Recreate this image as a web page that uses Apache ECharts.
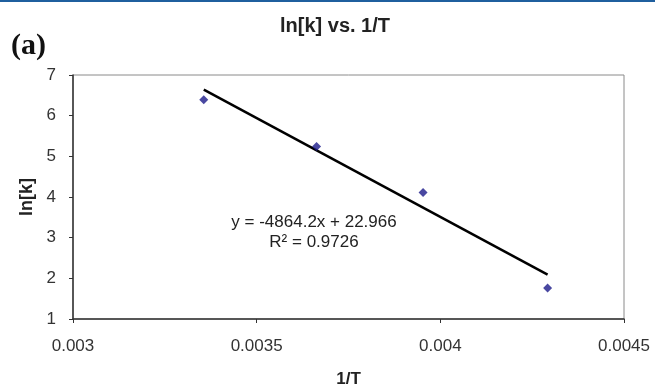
<!DOCTYPE html>
<html>
<head>
<meta charset="utf-8">
<script src="https://cdn.jsdelivr.net/npm/echarts@6/dist/echarts.min.js"></script>
<style>
  html, body { margin: 0; padding: 0; background: #fff; }
  #chart { width: 655px; height: 388px; }
</style>
</head>
<body>
<div id="chart"></div>
<script>
// measured points: 1/T and ln[k]
const invT = [0.003356, 0.003663, 0.003953, 0.004292];
const lnK = [6.39, 5.24, 4.11, 1.76];

// linear trendline end points
const trendX = [0.003356, 0.004292];
const trendY = [6.64, 2.09];

const eqLines = ["y = -4864.2x + 22.966", "R\u00b2 = 0.9726"];

const chart = echarts.init(document.getElementById("chart"));

const fmtX = (v) => parseFloat(v.toFixed(4)).toString();

chart.setOption({
  animation: false,
  title: {
    text: "ln[k] vs. 1/T",
    left: 330,
    top: 11,
    textAlign: "center",
    textStyle: {
      fontFamily: "Liberation Sans",
      fontSize: 20,
      fontWeight: "bold",
      color: "#222",
    },
  },
  grid: {
    left: 73,
    right: 31,
    top: 75,
    bottom: 69,
    outerBoundsMode: "none",
    show: true,
    borderColor: "#8a8a8a",
    borderWidth: 1,
  },
  xAxis: {
    type: "value",
    min: 0.003,
    max: 0.0045,
    interval: 0.0005,
    name: "1/T",
    nameLocation: "middle",
    nameGap: 52,
    nameTextStyle: {
      fontFamily: "Liberation Sans",
      fontSize: 17,
      fontWeight: "bold",
      color: "#222",
    },
    axisLine: { lineStyle: { color: "#333", width: 1.5 } },
    axisTick: { show: true, length: 4, lineStyle: { color: "#333" } },
    splitLine: { show: false },
    axisLabel: {
      formatter: fmtX,
      margin: 19,
      fontFamily: "Liberation Sans",
      fontSize: 17,
      color: "#333",
    },
  },
  yAxis: {
    type: "value",
    min: 1,
    max: 7,
    interval: 1,
    name: "ln[k]",
    nameLocation: "middle",
    nameGap: 36,
    nameRotate: 90,
    nameTextStyle: {
      fontFamily: "Liberation Sans",
      fontSize: 18,
      fontWeight: "bold",
      color: "#222",
    },
    axisLine: { show: true, lineStyle: { color: "#333", width: 1.5 } },
    axisTick: { show: true, length: 4, lineStyle: { color: "#333" } },
    splitLine: { show: false },
    axisLabel: {
      margin: 17,
      fontFamily: "Liberation Sans",
      fontSize: 17,
      color: "#333",
    },
  },
  series: [
    {
      type: "line",
      data: trendX.map((x, i) => [x, trendY[i]]),
      symbol: "none",
      lineStyle: { color: "#000", width: 2.5 },
      z: 2,
    },
    {
      type: "scatter",
      data: invT.map((x, i) => [x, lnK[i]]),
      symbol: "diamond",
      symbolSize: 9,
      itemStyle: { color: "#1c1a8a" },
      z: 3,
    },
  ],
  graphic: [
    {
      type: "rect",
      shape: { x: 0, y: 0, width: 655, height: 2 },
      style: { fill: "#1f5f9e" },
    },
    {
      type: "text",
      left: 11,
      top: 31,
      style: {
        text: "(a)",
        font: "bold 30px 'Liberation Serif'",
        fill: "#111",
      },
    },
    {
      type: "text",
      x: 314,
      y: 232,
      style: {
        text: eqLines.join("\n"),
        font: "17px 'Liberation Sans'",
        fill: "#222",
        align: "center",
        verticalAlign: "middle",
        lineHeight: 20,
      },
    },
  ],
});
</script>
</body>
</html>
